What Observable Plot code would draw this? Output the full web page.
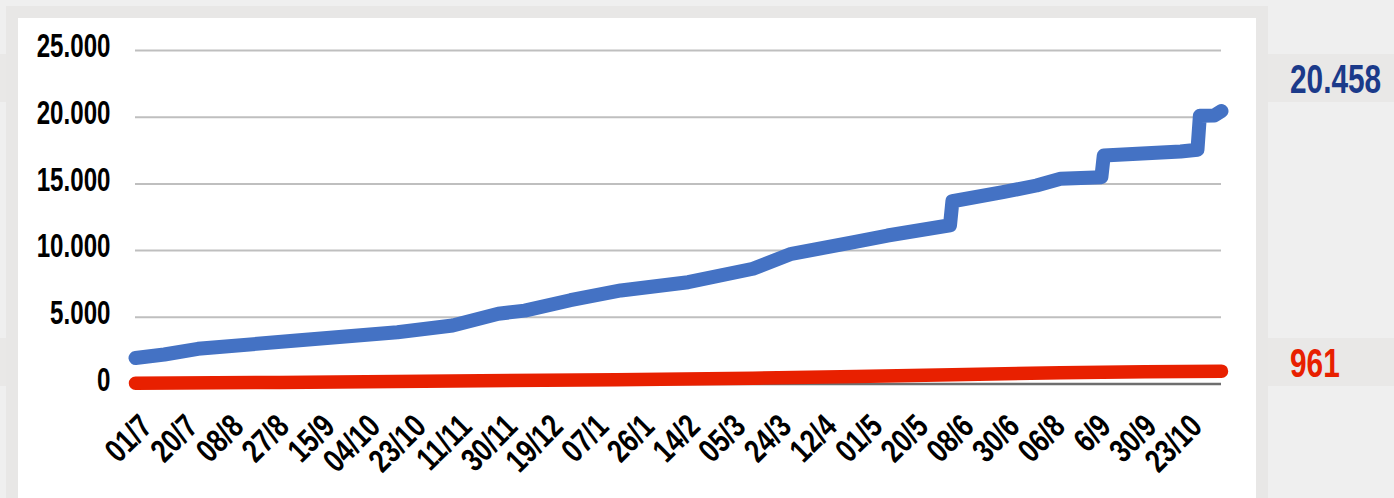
<!DOCTYPE html>
<html><head><meta charset="utf-8">
<script src="https://cdn.jsdelivr.net/npm/d3@7"></script>
<script src="https://cdn.jsdelivr.net/npm/@observablehq/plot@0.6"></script>
<style>
body{margin:0;width:1394px;height:498px;overflow:hidden;background:#efefef;position:relative;font-family:"Liberation Sans",Arial,sans-serif;}
.band{position:absolute;left:0;width:1394px;height:48px;background:#e9e8e7;}
#frame{position:absolute;left:6px;top:6px;width:1262px;height:492px;background:#e8e7e6;}
#panel{position:absolute;left:18px;top:18px;width:1238px;height:480px;background:#fff;}
.val{position:absolute;left:1290px;font-weight:bold;font-size:40px;line-height:48px;height:48px;transform:scaleX(0.745);transform-origin:0 50%;white-space:nowrap;}
#chart{position:absolute;left:18px;top:18px;}
#chart svg text{font-weight:bold;}
</style></head>
<body>
<div class="band" style="top:54px"></div>
<div class="band" style="top:338px"></div>
<div id="frame"></div>
<div id="panel"></div>
<div class="val" style="top:55px;color:#1b3a8a">20.458</div>
<div class="val" style="top:339px;color:#e82000">961</div>
<div id="chart"></div>
<script>
// category positions (index of point in the series) and their labels
const tickIndex = [0,19,38,57,76,95,114,133,152,171,190,209,228,247,266,285,304,323,342,361,380,399,418,437];
const tickLabels = ["01/7","20/7","08/8","27/8","15/9","04/10","23/10","11/11","30/11","19/12","07/1","26/1","14/2","05/3","24/3","12/4","01/5","20/5","08/6","30/6","06/8","6/9","30/9","23/10"];
const lastIndex = 452;

// blue series
const blueIdx = [0,12,26,67,109,132,151,162,181,202,230,257,273,299,313,339,340,361,375,385,402,403,421,435,442,443,449,452];
const blueVal = [1950,2210,2640,3260,3880,4385,5270,5500,6280,7010,7630,8640,9760,10630,11130,11900,13700,14380,14880,15380,15500,17130,17300,17430,17560,20100,20130,20458];

// red series
const redIdx = [0,60,132,200,257,300,340,385,420,452];
const redVal = [60,120,220,320,430,560,700,850,920,961];

const yTicks = [0,5000,10000,15000,20000,25000];

const blue = blueIdx.map((i,k)=>({i, v: blueVal[k]}));
const red = redIdx.map((i,k)=>({i, v: redVal[k]}));
const xt = tickIndex.map((i,k)=>({i, t: tickLabels[k]}));
const fmt = d => d3.format(",")(d).replace(/,/g,".");

const chart = Plot.plot({
  width: 1238,
  height: 480,
  marginLeft: 117,
  marginRight: 35,
  marginTop: 32,
  marginBottom: 114.5,
  style: {background:"transparent", color:"#000", fontFamily:'"Liberation Sans",Arial,sans-serif'},
  x: {domain:[0,lastIndex], axis:null},
  y: {domain:[0,25000], axis:null},
  marks: [
    Plot.gridY(yTicks.slice(1), {stroke:"#bfbfbf", strokeOpacity:1, strokeWidth:2}),
    Plot.ruleY([0], {stroke:"#6e6e6e", strokeWidth:2.5}),
    Plot.axisY(yTicks, {tickSize:0, tickPadding:25, tickFormat:fmt, dy:-4, fontSize:34, fontWeight:"bold", label:null}),
    Plot.text(xt, {x:"i", y:()=>0, text:"t", rotate:-45, textAnchor:"end", dx:11, dy:37, fontSize:33, fontWeight:"bold", fill:"#000"}),
    Plot.line(red, {x:"i", y:"v", stroke:"#e82000", strokeWidth:13.5, strokeLinecap:"round", strokeLinejoin:"round"}),
    Plot.line(blue, {x:"i", y:"v", stroke:"#4472c4", strokeWidth:14, strokeLinecap:"round", strokeLinejoin:"round"})
  ]
});
// condense the glyphs horizontally (the reference uses a condensed face)
d3.select(chart).selectAll("text").each(function() {
  const el = d3.select(this);
  const rotated = (el.attr("transform") || "").includes("rotate");
  const s = rotated ? 0.78 : 0.71;
  const t = el.attr("transform");
  if (t) {
    el.attr("transform", t + ` scale(${s},1)`);
  } else {
    const x = +el.attr("x") || 0, y = +el.attr("y") || 0;
    el.attr("x", null).attr("y", null).attr("transform", `translate(${x},${y}) scale(${s},1)`);
  }
});
document.getElementById("chart").appendChild(chart);
</script>
</body></html>
